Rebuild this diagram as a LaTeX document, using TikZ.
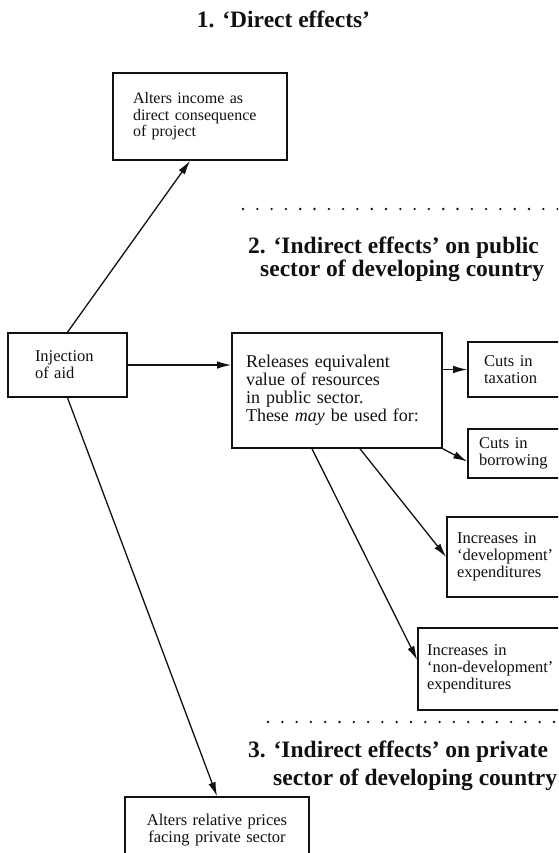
\documentclass[tikz,border=0pt]{standalone}
\usepackage{fontspec}
\setmainfont{Liberation Serif}
\usetikzlibrary{arrows.meta,calc}
\definecolor{ink}{HTML}{111111}
\tikzset{
  >={Latex[length=14pt,width=7.5pt]},
  bx/.style={draw=ink,line width=1.6pt,fill=white,align=left,inner ysep=0pt,text=ink,
    font=\fontsize{16.5}{17}\selectfont},
  head/.style={font=\fontsize{23.5}{21}\selectfont\bfseries,align=left,inner sep=0pt,text=ink},
  arr/.style={->,draw=ink,line width=1.3pt},
  sep/.style={draw=ink,line width=2.6pt,line cap=round,dash pattern=on 0pt off 14.3pt},
}
\begin{document}
\begin{tikzpicture}[x=1pt,y=1pt]
  \useasboundingbox (0,0) rectangle (558,-853);
  \clip (0,0) rectangle (558,-853);
  % section headings
  \node[head,anchor=base] (t1) at (283.5,-28) {1. `Direct effects'};
  \node[head,anchor=north west] (t2) at (248,-237) {2. `Indirect effects' on public\\\hspace*{12pt}sector of developing country};
  \node[head,anchor=north west] (t3) at (248,-741) {3. `Indirect effects' on private\\[5pt]\hspace*{25pt}sector of developing country};
  \draw[sep] (243,-209) -- (570,-209);
  \draw[sep] (268,-722) -- (570,-722);
  % boxes
  \node[bx,text width=134pt,inner xsep=20pt,minimum height=87pt,font=\fontsize{16}{16.5}\selectfont] (inc) at (200,-116.5) {Alters income as\\direct consequence\\of project};
  \node[bx,text width=65pt,inner xsep=27pt,minimum height=64pt] (inj) at (67.5,-365) {Injection\\of aid};
  \node[bx,text width=182pt,inner xsep=14pt,minimum height=115pt,font=\fontsize{18}{18}\selectfont] (rel) at (337,-390.5) {Releases equivalent\\value of resources\\in public sector.\\These \emph{may} be used for:};
  \node[bx,text width=65pt,inner xsep=16pt,minimum height=55pt] (tax) at (516.5,-369.5) {Cuts in\\taxation};
  \node[bx,text width=75pt,inner xsep=11pt,minimum height=49pt] (bor) at (516.5,-453.5) {Cuts in\\borrowing};
  \node[bx,text width=108pt,inner xsep=10pt,minimum height=80pt] (dev) at (511,-557) {Increases in\\`development'\\expenditures};
  \node[bx,text width=139pt,inner xsep=9pt,minimum height=82pt] (nd) at (496.5,-669) {Increases in\\`non-development'\\expenditures};
  \node[bx,align=center,text width=164pt,inner xsep=10pt,minimum height=66pt] (bot) at (217,-830) {Alters relative prices\\facing private sector};
  % arrows
  \draw[arr] (inj.north) -- ([xshift=-10pt]inc.south);
  \draw[arr] (inj.east) -- (inj.east -| rel.west);
  \draw[arr] (tax.west -| rel.east) -- (tax.west);
  \draw[arr] (rel.south east) -- ([yshift=-8pt]bor.west);
  \draw[arr] ([xshift=23pt]rel.south) -- (dev.west);
  \draw[arr] ([xshift=-25pt]rel.south) -- ([yshift=9pt]nd.west);
  \draw[arr] (inj.south) -- (bot.north);
\end{tikzpicture}
\end{document}
